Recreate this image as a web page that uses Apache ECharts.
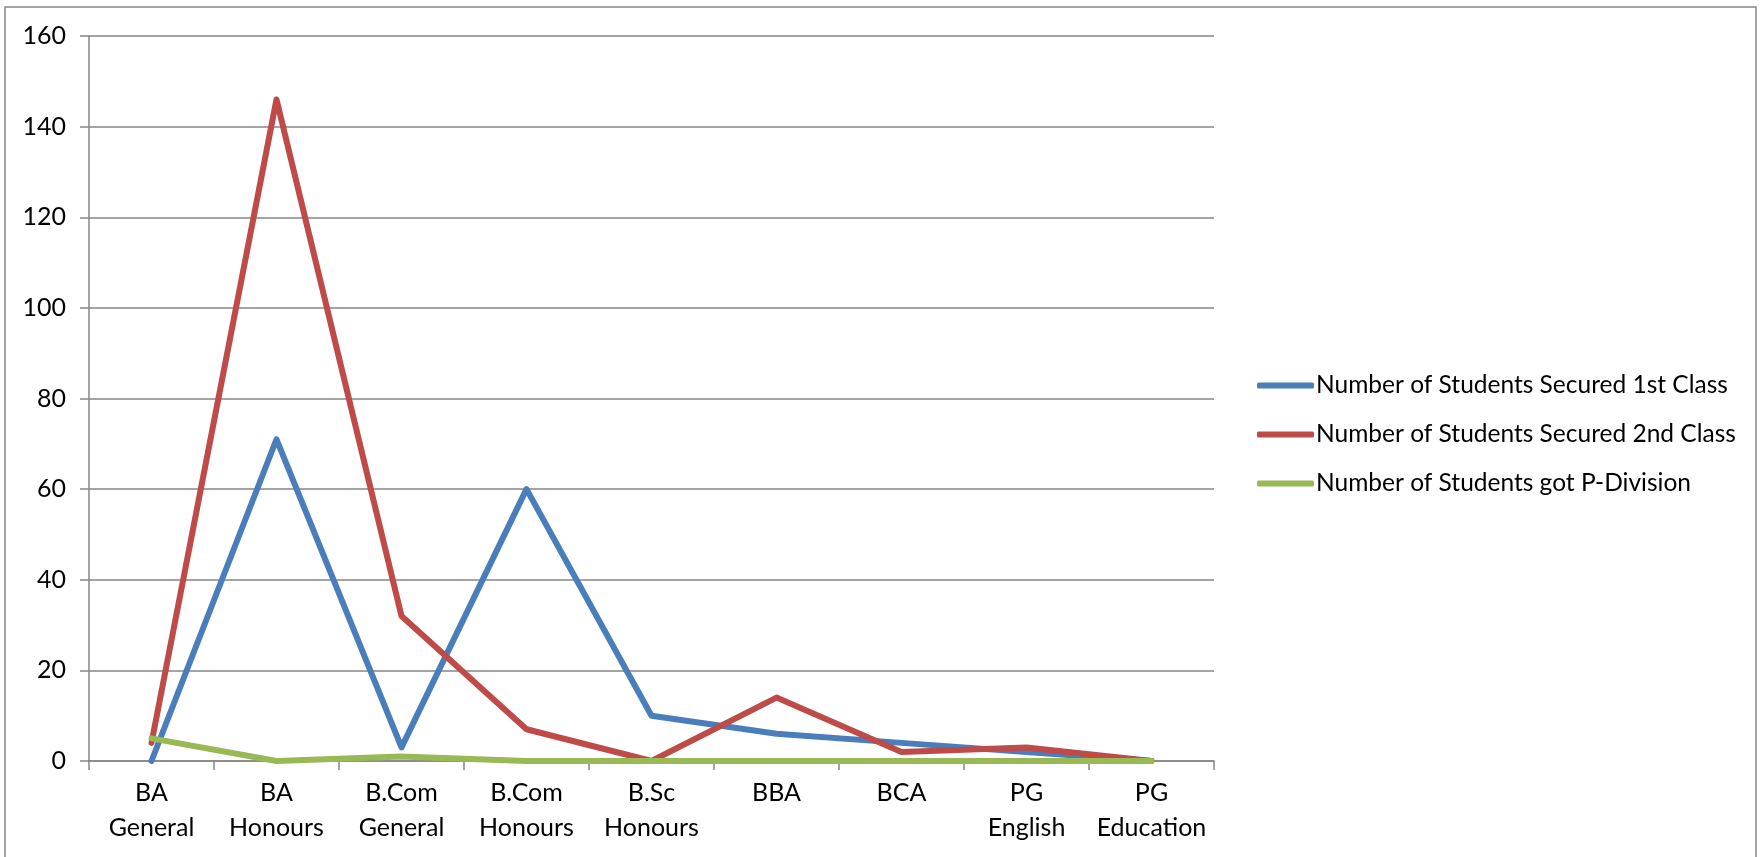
<!DOCTYPE html>
<html>
<head>
<meta charset="utf-8">
<script src="https://cdn.jsdelivr.net/npm/echarts@6/dist/echarts.min.js"></script>
<style>
html,body{margin:0;padding:0;background:#fff;}
#chart{width:1762px;height:857px;}
</style>
</head>
<body>
<div id="chart"></div>
<script>
const categories = ["BA\nGeneral","BA\nHonours","B.Com\nGeneral","B.Com\nHonours","B.Sc\nHonours","BBA","BCA","PG\nEnglish","PG\nEducation"];
const firstClass = [0, 71, 3, 60, 10, 6, 4, 2, 0];
const secondClass = [4, 146, 32, 7, 0, 14, 2, 3, 0];
const pDivision = [5, 0, 1, 0, 0, 0, 0, 0, 0];
const seriesNames = ["Number of Students Secured 1st Class","Number of Students Secured 2nd Class","Number of Students got P-Division"];
const yTicks = {min: 0, max: 160, interval: 20};

const chart = echarts.init(document.getElementById('chart'), null, {renderer: 'canvas'});
const font = 'Lato, "Open Sans", sans-serif';
const colors = ['#4A7EBB', '#BE4B48', '#98B954'];
const mk = (name, data, i) => ({
  name, type: 'line', data, symbol: 'none', smooth: false,
  lineStyle: {width: 6, color: colors[i], cap: 'round', join: 'round'},
  itemStyle: {color: colors[i]}, animation: false, z: 2 + i
});
chart.setOption({
  animation: false,
  backgroundColor: '#fff',
  textStyle: {fontFamily: font},
  grid: {left: 89, right: 548, top: 36, bottom: 96, containLabel: false},
  graphic: [{type: 'rect', shape: {x: 5, y: 7, width: 1751, height: 880}, style: {fill: 'none', stroke: '#878787', lineWidth: 1.5}, silent: true}],
  legend: {
    orient: 'vertical', left: 1252, top: 368,
    itemWidth: 57, itemHeight: 6, itemGap: 24,
    icon: 'roundRect',
    textStyle: {fontFamily: font, fontSize: 24.5, color: '#000', padding: [0,0,0,-3]},
    data: seriesNames
  },
  xAxis: {
    type: 'category', data: categories, boundaryGap: true,
    axisLine: {lineStyle: {color: '#868686', width: 1.5}},
    axisTick: {show: true, length: 9, lineStyle: {color: '#868686', width: 1.5}},
    axisLabel: {fontFamily: font, fontSize: 25, color: '#000', lineHeight: 35, margin: 14, interval: 0}
  },
  yAxis: {
    type: 'value', min: yTicks.min, max: yTicks.max, interval: yTicks.interval,
    axisLine: {show: true, lineStyle: {color: '#868686', width: 1.5}},
    axisTick: {show: true, length: 9, lineStyle: {color: '#868686', width: 1.5}},
    splitLine: {show: true, lineStyle: {color: '#868686', width: 1.5}},
    axisLabel: {fontFamily: font, fontSize: 25, color: '#000', margin: 23}
  },
  series: [mk(seriesNames[0], firstClass, 0), mk(seriesNames[1], secondClass, 1), mk(seriesNames[2], pDivision, 2)]
});
</script>
</body>
</html>
